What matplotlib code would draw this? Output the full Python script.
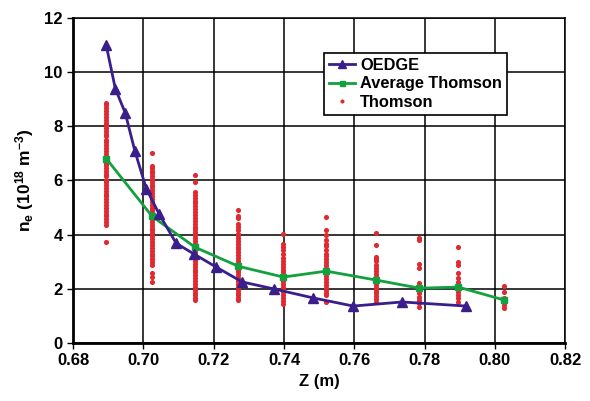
import matplotlib
matplotlib.use("Agg")
import matplotlib.pyplot as plt

plt.rcParams['font.family'] = ['Liberation Sans', 'DejaVu Sans']
plt.rcParams['font.weight'] = 'bold'
plt.rcParams['mathtext.fontset'] = 'custom'
plt.rcParams['mathtext.bf'] = 'Liberation Sans:bold'
plt.rcParams['mathtext.rm'] = 'Liberation Sans:bold'
plt.rcParams['mathtext.default'] = 'bf'

# OEDGE model profile
oedge_z = [0.6894, 0.6920, 0.6948, 0.6976, 0.7008, 0.7045, 0.7093, 0.7144,
           0.7207, 0.7281, 0.7372, 0.7483, 0.7597, 0.7736, 0.7918]
oedge_ne = [11.0, 9.39, 8.50, 7.07, 5.70, 4.75, 3.68, 3.28,
            2.80, 2.25, 1.99, 1.66, 1.36, 1.51, 1.36]

# average of the Thomson points at each position
avg_z = [0.6894, 0.7025, 0.7147, 0.7270, 0.7398, 0.7520, 0.7662, 0.7785, 0.7896, 0.8027]
avg_ne = [6.81, 4.67, 3.53, 2.83, 2.43, 2.65, 2.32, 2.02, 2.06, 1.58]

# individual Thomson measurements, one list per position in avg_z
thomson_ne = [
    [8.87, 8.78, 8.66, 8.55, 8.47, 8.36, 8.25, 8.14, 8.05, 7.93, 7.84, 7.72, 7.63,
     7.51, 7.42, 7.31, 7.2, 7.1, 6.98, 6.88, 6.77, 6.66, 6.57, 6.45, 6.35, 6.24,
     6.15, 6.03, 5.94, 5.83, 5.72, 5.62, 5.51, 5.41, 5.3, 5.2, 5.09, 4.98, 4.88,
     4.77, 4.67, 4.56, 4.45, 4.34, 3.73],
    [7.03, 6.55, 6.47, 6.34, 6.28, 6.17, 6.06, 5.96, 5.85, 5.74, 5.64, 5.53, 5.43,
     5.32, 5.21, 5.11, 5.0, 4.9, 4.79, 4.68, 4.58, 4.47, 4.37, 4.26, 4.16, 4.05,
     3.94, 3.84, 3.73, 3.63, 3.52, 3.41, 3.3, 3.2, 3.09, 2.98, 2.86, 2.59, 2.44, 2.26],
    [6.21, 5.96, 5.57, 5.46, 5.36, 5.25, 5.15, 5.04, 4.93, 4.83, 4.72, 4.62, 4.5,
     4.4, 4.29, 4.19, 4.08, 3.98, 3.87, 3.76, 3.66, 3.55, 3.45, 3.34, 3.23, 3.13,
     3.02, 2.92, 2.81, 2.7, 2.6, 2.49, 2.39, 2.28, 2.17, 2.07, 1.96, 1.86, 1.75,
     1.65, 1.58],
    [4.92, 4.67, 4.6, 4.38, 4.29, 4.17, 4.04, 3.97, 3.87, 3.76, 3.66, 3.55, 3.45,
     3.34, 3.24, 3.13, 3.02, 2.92, 2.81, 2.71, 2.6, 2.5, 2.39, 2.28, 2.18, 2.07,
     1.97, 1.86, 1.76, 1.66, 1.58],
    [4.04, 3.67, 3.55, 3.42, 3.3, 3.12, 3.02, 2.92, 2.81, 2.71, 2.6, 2.5, 2.39,
     2.29, 2.18, 2.08, 1.97, 1.87, 1.76, 1.66, 1.55, 1.44],
    [4.65, 4.16, 3.97, 3.79, 3.67, 3.56, 3.44, 3.3, 3.2, 3.09, 2.99, 2.88, 2.78,
     2.67, 2.57, 2.46, 2.36, 2.25, 2.15, 2.04, 1.94, 1.84, 1.77, 1.52],
    [4.07, 3.63, 3.18, 3.09, 3.01, 2.87, 2.77, 2.66, 2.56, 2.45, 2.35, 2.24, 2.14,
     2.03, 1.93, 1.83, 1.72, 1.62, 1.52],
    [3.88, 3.79, 2.91, 2.75, 2.2, 2.08, 1.96, 1.83, 1.71, 1.59, 1.46, 1.34],
    [3.54, 2.99, 2.87, 2.59, 2.38, 2.26, 2.14, 2.02, 1.89, 1.77, 1.65, 1.52],
    [2.1, 1.89, 1.64, 1.52, 1.39, 1.27],
]

fig = plt.figure(figsize=(5.90, 4.01), dpi=100)
ax = fig.add_axes([0.124, 0.145, 0.834, 0.81])

for i, vals in enumerate(thomson_ne):
    ax.plot([avg_z[i]] * len(vals), vals, linestyle='none', marker='o',
            markersize=3.7, color='#e02a32', markeredgewidth=0, zorder=2,
            label='Thomson' if i == 0 else None)

ax.plot(oedge_z, oedge_ne, color='#3a1e8c', linewidth=2, marker='^',
        markersize=6.5, zorder=4, label='OEDGE')
ax.plot(avg_z, avg_ne, color='#13a03e', linewidth=2, marker='s',
        markersize=4.5, zorder=3, label='Average Thomson')

ax.set_xlim(0.68, 0.82)
ax.set_ylim(0, 12)
ax.set_xticks([0.68, 0.70, 0.72, 0.74, 0.76, 0.78, 0.80, 0.82])
ax.set_xticklabels(['0.68', '0.70', '0.72', '0.74', '0.76', '0.78', '0.80', '0.82'],
                   fontweight='bold')
ax.set_yticks(range(0, 13, 2))
ax.set_yticklabels([str(v) for v in range(0, 13, 2)], fontweight='bold')
ax.grid(True, color='black', linewidth=1.1)
ax.set_axisbelow(True)
ax.tick_params(direction='out', length=4, width=1, labelsize=12, colors='black')
for side in ['top', 'right']:
    ax.spines[side].set_linewidth(1.1)
for side in ['left', 'bottom']:
    ax.spines[side].set_linewidth(2)

ax.set_xlabel('Z (m)', fontsize=12, fontweight='bold', labelpad=4)
ax.set_ylabel(r'n$_e$ (10$^{18}$ m$^{-3}$)', fontsize=12.5, fontweight='bold', labelpad=6)

handles, labels = ax.get_legend_handles_labels()
order = [labels.index('OEDGE'), labels.index('Average Thomson'), labels.index('Thomson')]
leg = ax.legend([handles[k] for k in order], [labels[k] for k in order],
                loc='upper left', bbox_to_anchor=(0.51, 0.892), borderaxespad=0,
                fancybox=False, framealpha=1, edgecolor='black',
                prop={'size': 11.8, 'weight': 'bold'},
                handlelength=1.6, handletextpad=0.3, labelspacing=0.2,
                borderpad=0.3, markerscale=0.8)
leg.get_frame().set_linewidth(1.2)

fig.savefig('out.png', dpi=100)
